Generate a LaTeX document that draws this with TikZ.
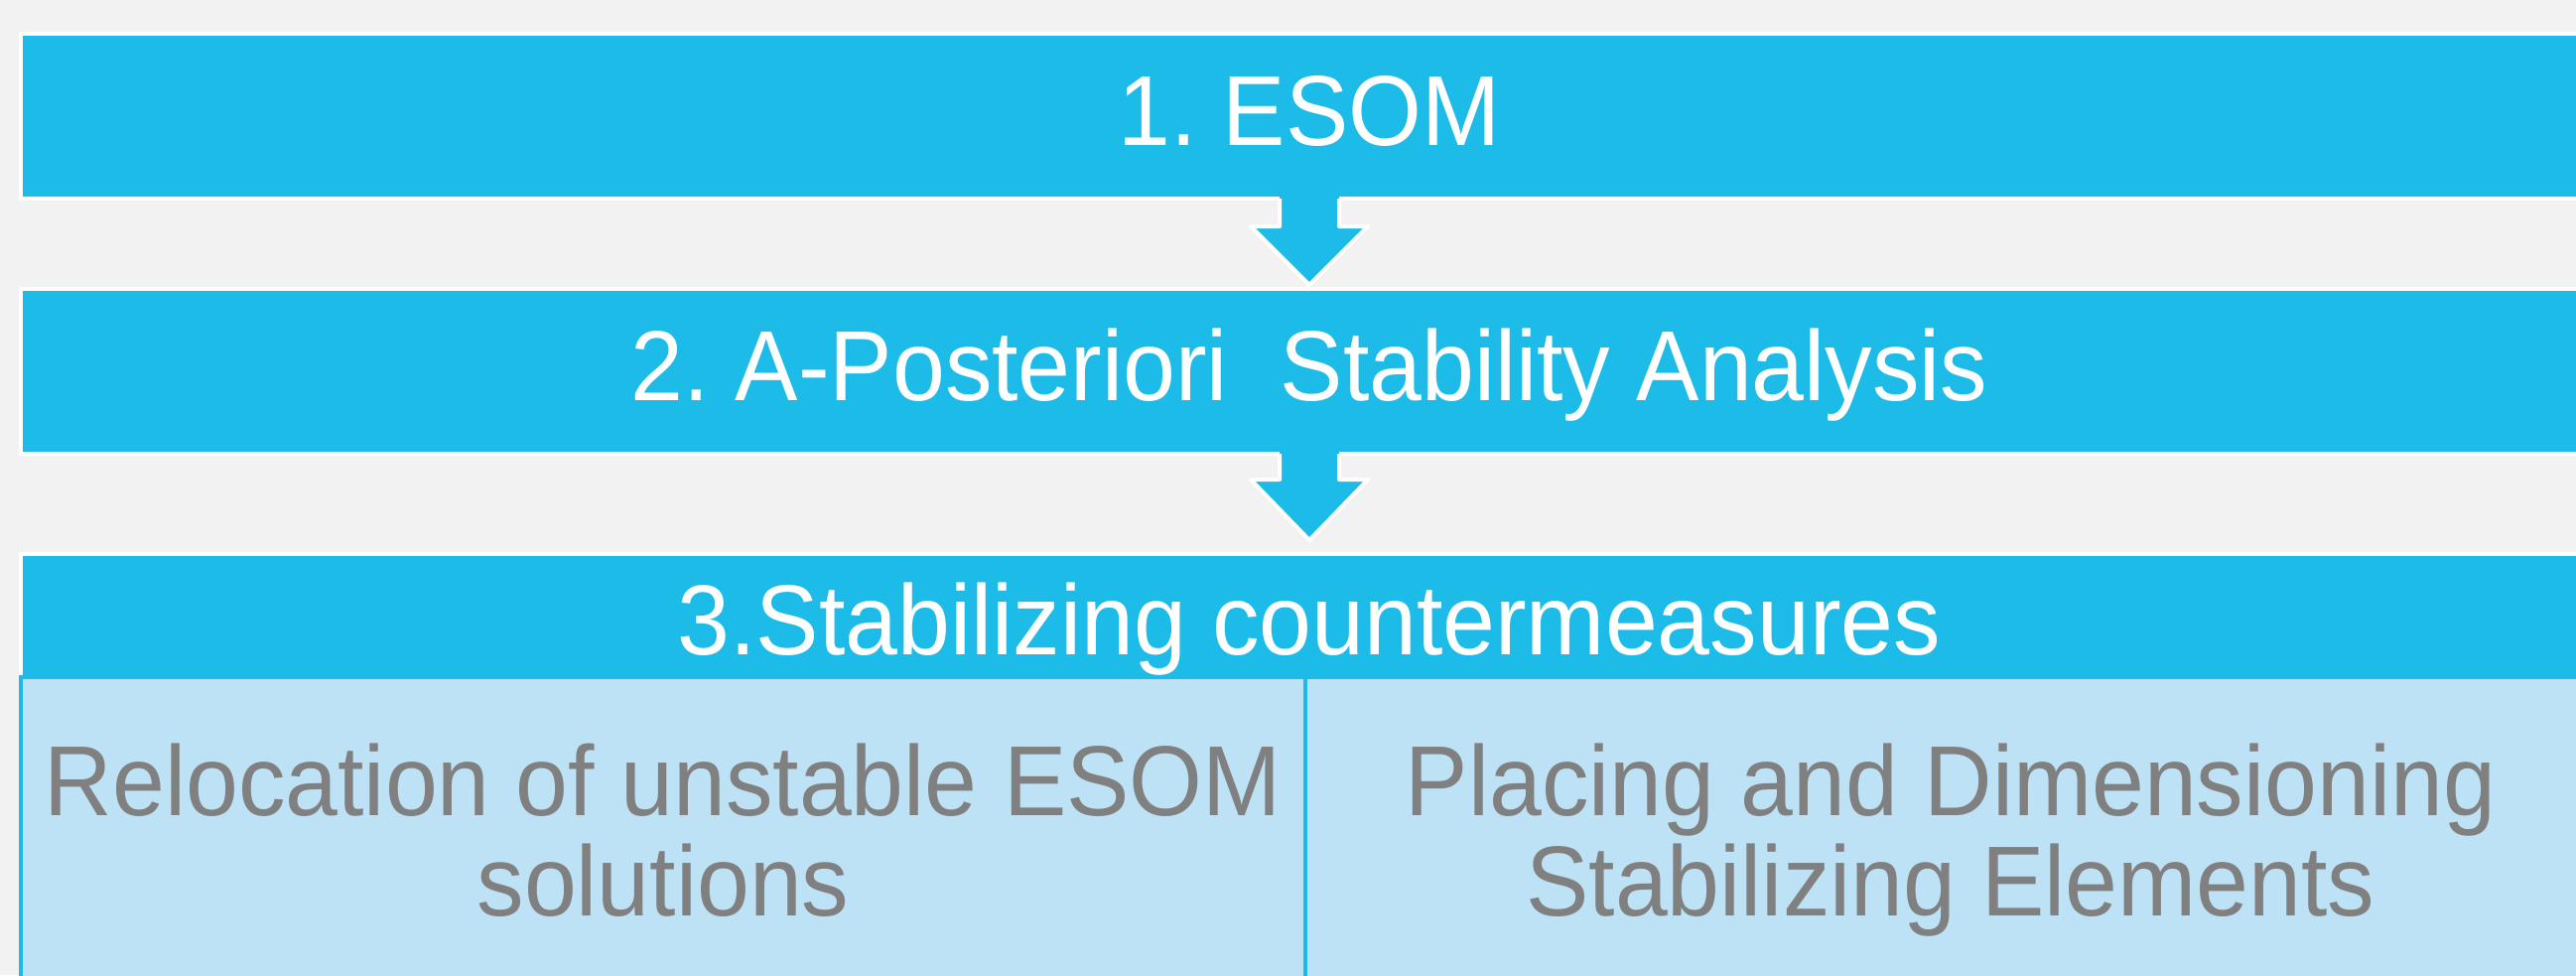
\documentclass[tikz,border=0pt]{standalone}
\usepackage{fontspec}
\setmainfont{Liberation Sans}
\newfontfamily\diagfont{Liberation Sans}[FakeStretch=0.948]
\usetikzlibrary{calc}
\definecolor{bg}{HTML}{F2F2F2}
\definecolor{dblue}{HTML}{1CBBE8}
\definecolor{lblue}{HTML}{BDE2F5}
\definecolor{tgray}{HTML}{808080}
\frenchspacing
\newcommand{\dlines}[2]{\vtop{\baselineskip=50.5pt\lineskiplimit=-100pt\halign{\hfil##\hfil\cr #1\cr #2\cr}}}
\begin{document}
\begin{tikzpicture}[x=0.5pt,y=-0.5pt,
  bar/.style={rectangle, fill=dblue, draw=white, line width=2pt, inner sep=0pt, outer sep=0pt, minimum width=1298pt},
  sub/.style={rectangle, fill=lblue, draw=dblue, line width=2pt, inner sep=0pt, outer sep=0pt, minimum height=159pt},
  headtext/.style={text=white, font=\diagfont\fontsize{50.1pt}{50.5pt}\selectfont, inner sep=0pt, anchor=base},
  bodytext/.style={text=tgray, font=\diagfont\fontsize{50.1pt}{50.5pt}\selectfont, inner sep=0pt, anchor=base},
  arrline/.style={draw=white, line width=2pt, line join=round}]
\useasboundingbox (0,0) rectangle (2595,982);
\fill[bg] (0,0) rectangle (2595,982);
\clip (0,0) rectangle (2595,982);
% bars
\node[bar, minimum height=83pt] (b1) at (1319,117) {};
\node[bar, minimum height=83pt] (b2) at (1319,374) {};
\node[bar, minimum height=63pt] (b3) at (1319,621) {};
% arrow 1
\fill[dblue] ($(b1.south)+(-30,-4)$) -- ($(b1.south)+(-30,28)$) -- ($(b1.south)+(-59,28)$) -- ($(b1.south)+(0,87)$) -- ($(b1.south)+(59,28)$) -- ($(b1.south)+(30,28)$) -- ($(b1.south)+(30,-4)$) -- cycle;
\draw[arrline] ($(b1.south)+(-30,0)$) -- ($(b1.south)+(-30,28)$) -- ($(b1.south)+(-59,28)$) -- ($(b1.south)+(0,87)$) -- ($(b1.south)+(59,28)$) -- ($(b1.south)+(30,28)$) -- ($(b1.south)+(30,0)$);
% arrow 2
\fill[dblue] ($(b2.south)+(-30,-4)$) -- ($(b2.south)+(-30,26)$) -- ($(b2.south)+(-59,26)$) -- ($(b2.south)+(0,87)$) -- ($(b2.south)+(59,26)$) -- ($(b2.south)+(30,26)$) -- ($(b2.south)+(30,-4)$) -- cycle;
\draw[arrline] ($(b2.south)+(-30,0)$) -- ($(b2.south)+(-30,26)$) -- ($(b2.south)+(-59,26)$) -- ($(b2.south)+(0,87)$) -- ($(b2.south)+(59,26)$) -- ($(b2.south)+(30,26)$) -- ($(b2.south)+(30,0)$);
% sub boxes
\node[sub, minimum width=647.25pt] (s1) at (667.75,841) {};
\node[sub, minimum width=651pt] (s2) at (1966,841) {};
% texts
\node[headtext] (t1) at (1319,146) {1. ESOM};
\node[headtext] (t2) at (1319,403) {2. A-Posteriori\ \ Stability Analysis};
\node[headtext] (t3) at (1319,659) {3.Stabilizing countermeasures};
\node[bodytext] (t4) at (668,821) {\dlines{Relocation of unstable ESOM}{solutions}};
\node[bodytext] (t5) at (1965,821) {\dlines{Placing and Dimensioning}{Stabilizing Elements}};
\end{tikzpicture}
\end{document}
